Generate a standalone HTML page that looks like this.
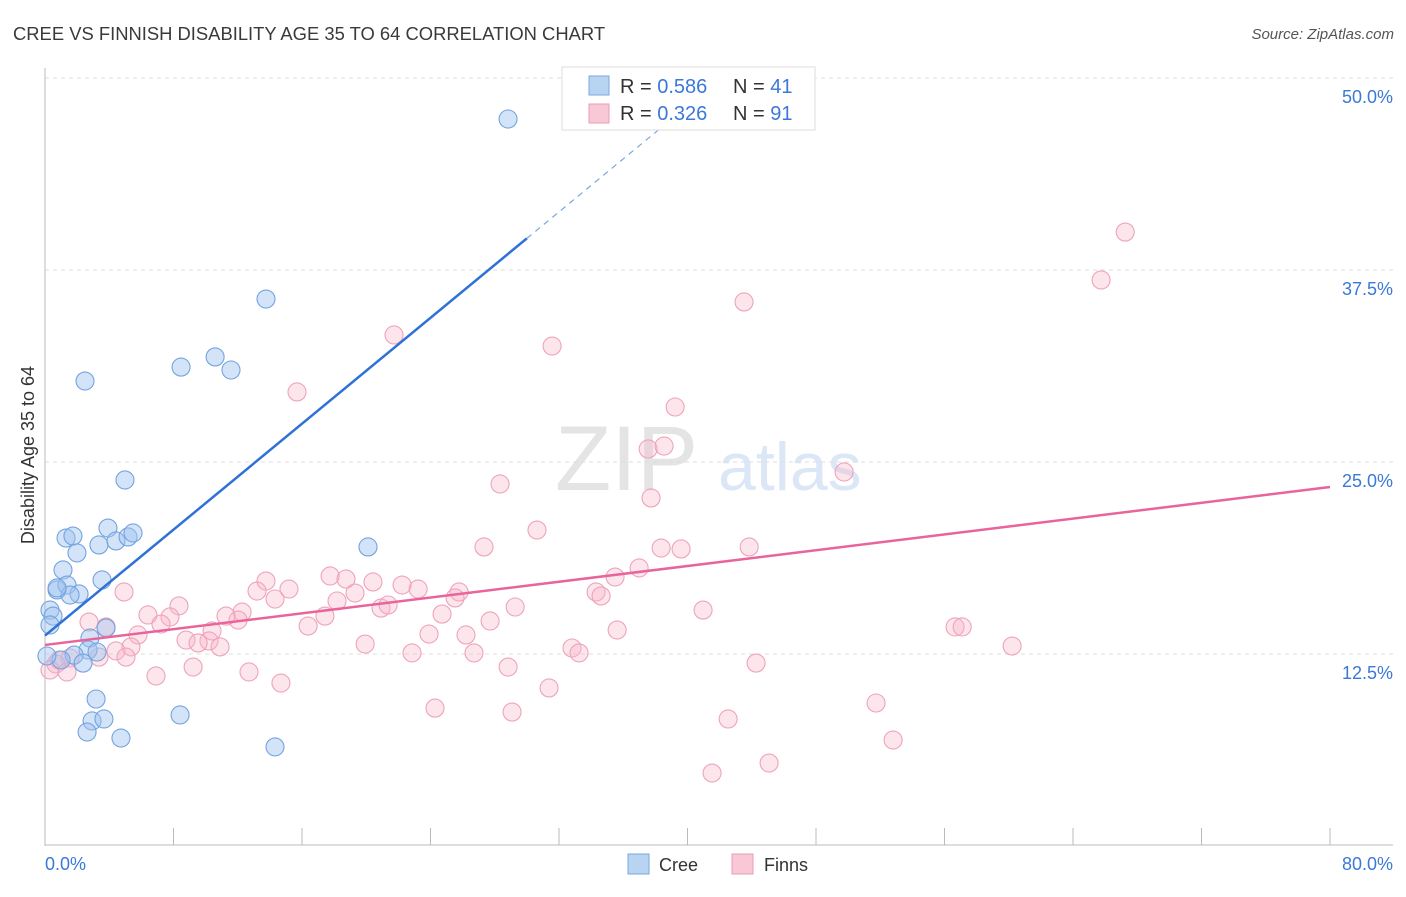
<!DOCTYPE html>
<html><head><meta charset="utf-8"><style>
body{margin:0;background:#fff;font-family:"Liberation Sans",sans-serif}
svg text{font-family:"Liberation Sans",sans-serif}
</style></head><body>
<svg id="chart" width="1406" height="892" xmlns="http://www.w3.org/2000/svg">
<text x="13" y="40" font-size="18.4" fill="#3a3a3a">CREE VS FINNISH DISABILITY AGE 35 TO 64 CORRELATION CHART</text>
<text x="1394" y="39" font-size="15" fill="#555" font-style="italic" text-anchor="end">Source: ZipAtlas.com</text>
<g>
<text x="555" y="490" font-size="92" fill="#e4e4e4" font-family="Liberation Serif, serif">ZIP</text>
<text x="718" y="490" font-size="68" fill="#dbe7f6">atlas</text>
</g>
<g id="grid"></g>
<g id="axes"></g>
<g id="marks"></g>
<text x="34" y="455" font-size="18" fill="#333" text-anchor="middle" transform="rotate(-90 34 455)">Disability Age 35 to 64</text>
<text x="45" y="870" font-size="18" fill="#3b78d8">0.0%</text>
<text x="1393" y="870" font-size="18" fill="#3b78d8" text-anchor="end">80.0%</text>
<g>
<rect x="562" y="67" width="253" height="63" fill="#fff" stroke="#ddd"/>
<rect x="589" y="76" width="20" height="19" fill="#b9d3f3" stroke="#7aa7e0"/>
<rect x="589" y="104" width="20" height="19" fill="#f9c8d6" stroke="#eb9ab4"/>
<text x="620" y="93" font-size="20" fill="#333">R = <tspan fill="#3b78d8">0.586</tspan><tspan x="733">N = </tspan><tspan fill="#3b78d8">41</tspan></text>
<text x="620" y="120" font-size="20" fill="#333">R = <tspan fill="#3b78d8">0.326</tspan><tspan x="733">N = </tspan><tspan fill="#3b78d8">91</tspan></text>
</g>
<g>
<rect x="628" y="854" width="21" height="20" fill="#b9d3f3" stroke="#7aa7e0"/>
<text x="659" y="871" font-size="18" fill="#333">Cree</text>
<rect x="732" y="854" width="21" height="20" fill="#f9c8d6" stroke="#eb9ab4"/>
<text x="764" y="871" font-size="18" fill="#333">Finns</text>
</g>
</svg>
<script>
const yTicks=[12.5,25.0,37.5,50.0];
const xTicks=[0,8,16,24,32,40,48,56,64,72,80];
const creeX=[28.83,13.76,2.49,8.47,10.59,11.58,4.98,3.92,1.31,1.74,3.36,4.42,5.17,5.48,1.99,20.11,1.12,0.75,1.37,3.55,2.12,1.56,0.31,0.50,0.31,3.80,2.80,2.68,3.24,1.81,1.00,2.37,0.12,3.18,8.41,2.93,3.67,2.62,4.73,14.32,0.75];
const creeY=[47.33,35.61,30.27,31.18,31.84,30.99,23.83,20.70,20.05,20.18,19.60,19.86,20.12,20.38,19.08,19.47,17.97,16.67,16.99,17.32,16.41,16.34,15.36,14.97,14.39,14.19,13.54,12.76,12.63,12.43,12.11,11.91,12.37,9.57,8.53,8.14,8.27,7.42,7.03,6.45,16.80];
const finnX=[67.25,65.75,43.52,21.73,31.57,15.69,39.23,37.55,38.54,49.75,28.33,37.73,30.63,27.33,38.36,39.60,43.84,36.99,35.49,34.31,34.62,17.75,18.74,20.42,13.76,22.23,23.23,25.78,25.53,15.19,13.20,4.92,19.30,18.18,14.32,8.34,6.41,7.78,12.27,12.02,11.27,20.92,21.36,29.27,17.43,24.72,40.97,27.71,16.38,7.22,2.74,3.80,5.79,10.40,10.21,8.78,9.53,10.90,35.62,23.91,26.21,19.93,5.35,4.42,32.81,33.25,22.85,26.71,3.36,5.04,1.56,0.87,0.68,1.37,0.31,9.22,12.70,44.27,28.83,6.91,14.69,31.38,24.28,29.08,42.53,51.74,52.80,41.53,45.08,56.66,57.10,60.21];
const finnY=[39.97,36.85,35.42,33.27,32.55,29.56,28.58,25.85,26.04,24.35,23.57,22.66,20.57,19.47,19.40,19.34,19.47,18.10,17.51,16.54,16.28,17.58,17.38,17.19,17.25,16.99,16.73,16.54,16.15,16.73,16.60,16.54,16.47,15.95,16.08,15.63,15.04,14.91,15.23,14.71,14.97,15.49,15.69,15.56,14.97,15.10,15.36,14.65,14.32,14.45,14.58,14.26,13.74,14.00,13.35,13.41,13.22,12.96,14.06,13.80,13.74,13.15,12.96,12.70,12.89,12.57,12.57,12.57,12.30,12.30,12.24,12.11,11.85,11.33,11.46,11.65,11.33,11.91,11.65,11.07,10.61,10.29,8.98,8.72,8.27,9.31,6.90,4.75,5.40,14.26,14.26,13.02];
const creeTrend=[13.7,0.862];
const finnTrend=[13.09,0.1285];
const NS="http://www.w3.org/2000/svg";
const sx=v=>45+v*(1285/80);
const sy=v=>846-v*15.36;
function mk(t,a,p){const e=document.createElementNS(NS,t);for(const k in a)e.setAttribute(k,a[k]);p.appendChild(e);return e;}
const grid=document.getElementById('grid'),axes=document.getElementById('axes'),marks=document.getElementById('marks');
yTicks.forEach(v=>{
const l=mk('line',{x1:45,x2:1393,y1:sy(v),y2:sy(v),stroke:'#ddd','stroke-dasharray':'4,4'},grid);


const t=mk('text',{x:1393,y:sy(v)+25,'font-size':18,fill:'#3b78d8','text-anchor':'end'},grid);
t.textContent=v.toFixed(1)+'%';


});
mk('line',{x1:45,x2:45,y1:68,y2:846,stroke:'#bbb'},axes);
mk('line',{x1:45,x2:1393,y1:845,y2:845,stroke:'#bbb'},axes);
xTicks.forEach(v=>{
const t=mk('line',{x1:sx(v),x2:sx(v),y1:828,y2:845,stroke:'#bbb'},axes);


});
function pts(X,Y,fill,stroke,name){X.forEach((x,i)=>{
const c=mk('circle',{cx:sx(x),cy:sy(Y[i]),r:9,fill:fill,stroke:stroke,'stroke-width':1.1},marks);


});}
pts(finnX,finnY,'rgba(248,180,200,0.35)','#eea3bc','finns-point');
pts(creeX,creeY,'rgba(160,196,240,0.45)','#74a3e0','cree-point');
const cl=mk('line',{x1:sx(0),y1:sy(creeTrend[0]),x2:sx(30),y2:sy(creeTrend[0]+30*creeTrend[1]),stroke:'#2f72d6','stroke-width':2.5},marks);


const xe=(48-creeTrend[0])/creeTrend[1];
const cd=mk('line',{x1:sx(30),y1:sy(creeTrend[0]+30*creeTrend[1]),x2:sx(xe),y2:sy(48),stroke:'#7aa7e0','stroke-width':1.2,'stroke-dasharray':'6,5'},marks);


const fl=mk('line',{x1:sx(0),y1:sy(finnTrend[0]),x2:sx(80),y2:sy(finnTrend[0]+80*finnTrend[1]),stroke:'#e8649a','stroke-width':2.5},marks);


</script>
</body></html>
